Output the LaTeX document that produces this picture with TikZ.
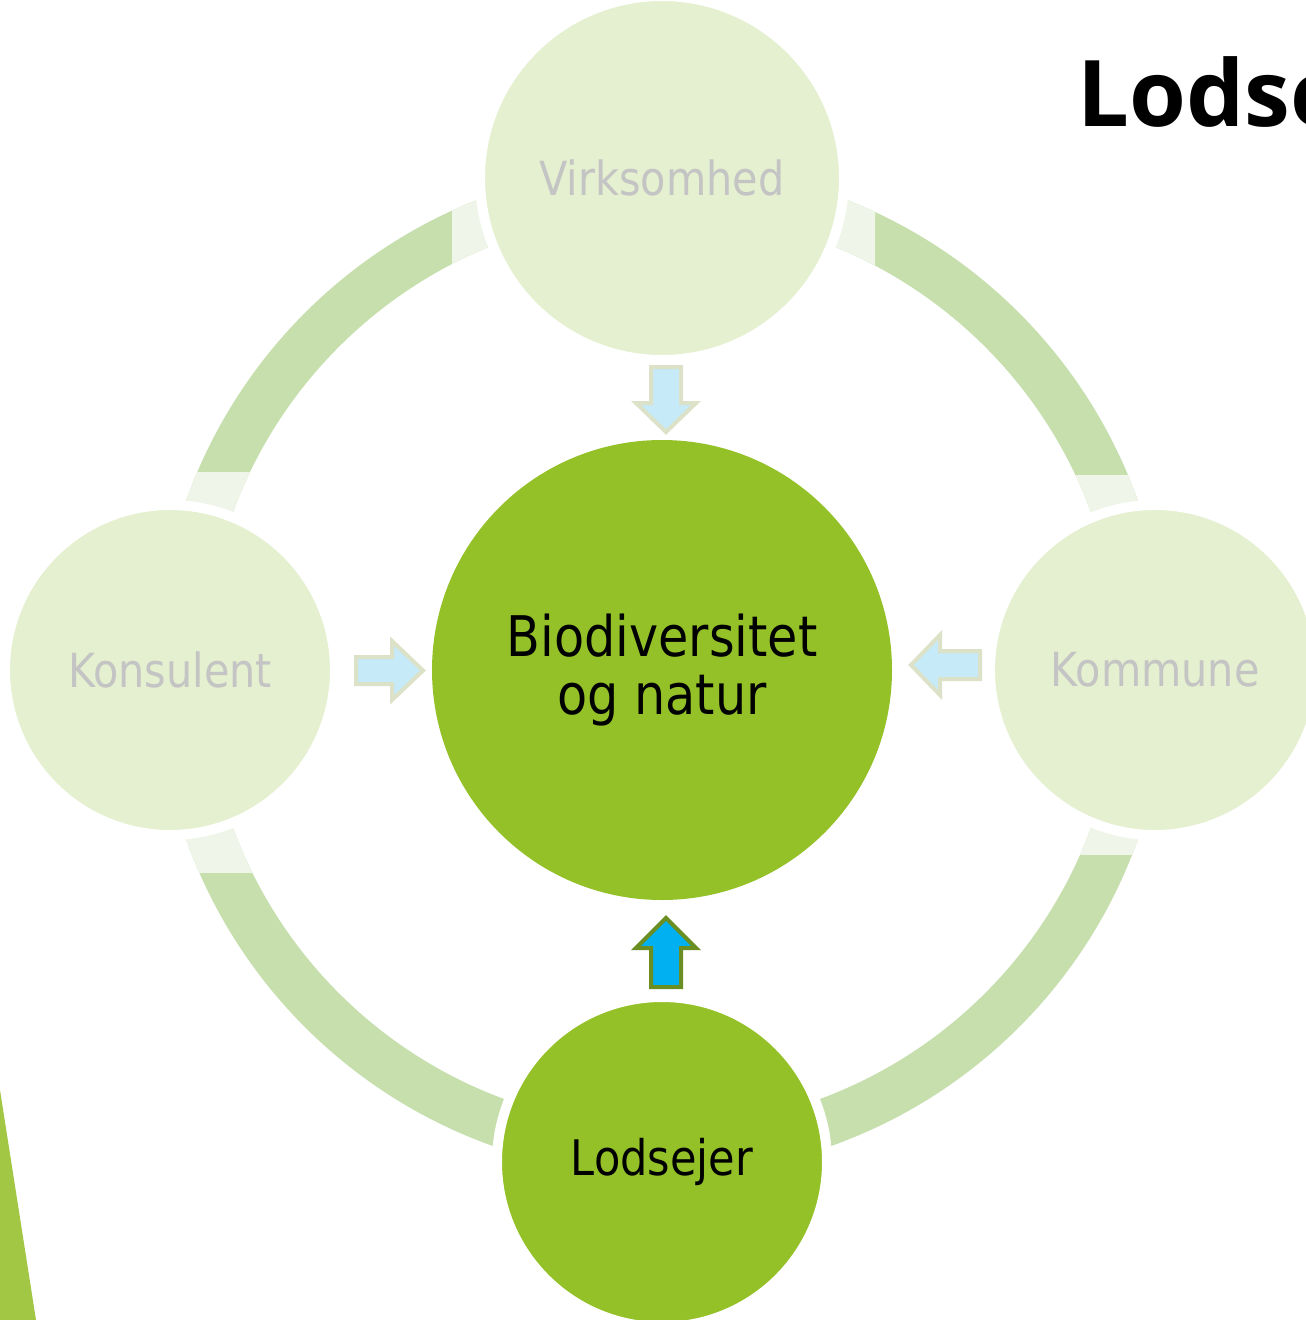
\documentclass[tikz,border=0pt]{standalone}
\usepackage{fontspec}
\setmainfont{DejaVu Sans}[FakeStretch=0.88]
\newfontfamily\titlefont{Open Sans}
\definecolor{ringdark}{HTML}{C6DFAD}
\definecolor{ringlight}{HTML}{EFF5E9}
\definecolor{outerfill}{HTML}{E4F0CF}
\definecolor{graytext}{HTML}{C4C4C4}
\definecolor{maingreen}{HTML}{93C127}
\definecolor{trigreen}{HTML}{A2C745}
\definecolor{arrowfill}{HTML}{C6EAF8}
\definecolor{arrowborder}{HTML}{DCE2C8}
\definecolor{bluefill}{HTML}{00B0F0}
\definecolor{olive}{HTML}{6B8E23}
\tikzset{
  outer/.style={circle, fill=outerfill, draw=white, line width=10pt, inner sep=0pt,
    minimum size=330pt, text=graytext, font=\fontsize{47}{54}\selectfont},
  greencirc/.style={circle, fill=maingreen, draw=white, line width=10pt, inner sep=0pt,
    text=black},
  lightarrow/.style={fill=arrowfill, draw=arrowborder, line width=4pt, line join=miter},
  bluearrow/.style={fill=bluefill, draw=olive, line width=4pt, line join=miter}
}
\begin{document}
\begin{tikzpicture}[x=1pt,y=-1pt]
\useasboundingbox (0,0) rectangle (1306,1320);
\clip (0,0) rectangle (1306,1320);
\fill[white] (0,0) rectangle (1306,1320);
\coordinate (c) at (662,670);
% ring
\draw[ringdark, line width=48pt] (c) circle[radius=481pt];
\begin{scope}
  \clip (452,0) rectangle (875,420);
  \draw[ringlight, line width=48pt] (c) circle[radius=481pt];
\end{scope}
\begin{scope}
  \clip (0,472) rectangle (420,872);
  \draw[ringlight, line width=48pt] (c) circle[radius=481pt];
\end{scope}
\begin{scope}
  \clip (900,475) rectangle (1306,854);
  \draw[ringlight, line width=48pt] (c) circle[radius=481pt];
\end{scope}
% circles
\node[outer, minimum size=364pt] (virk) at (662,178) {Virksomhed};
\node[outer] (kons) at (170,670) {Konsulent};
\node[outer] (komm) at (1155,670) {Kommune};
\node[greencirc, minimum size=330pt, font=\fontsize{49}{56}\selectfont] (lods) at (662,1162) {Lodsejer};
\node[greencirc, draw=none, minimum size=460pt, align=center,
  font=\fontsize{56}{58}\selectfont] (bio) at (662,670) {Biodiversitet\\og natur};
% arrows
\draw[lightarrow] (651,367) -- (681,367) -- (681,403) -- (696,403) -- (666,432)
  -- (636,403) -- (651,403) -- cycle;
\draw[bluearrow] (666,918) -- (696,948) -- (681,948) -- (681,987) -- (651,987)
  -- (651,948) -- (636,948) -- cycle;
\draw[lightarrow] (356,657) -- (392,657) -- (392,641) -- (423,670.5) -- (392,700)
  -- (392,684) -- (356,684) -- cycle;
\draw[lightarrow] (911,665) -- (940,635) -- (940,651) -- (980,651) -- (980,679)
  -- (940,679) -- (940,695) -- cycle;
% triangle
\fill[trigreen] (0,1090) -- (36,1320) -- (0,1320) -- cycle;
% title
\node[anchor=base west, inner sep=0pt, font=\titlefont\bfseries\fontsize{92}{100}\selectfont]
  (title) at (1077,126) {Lodsejer};
\end{tikzpicture}
\end{document}
